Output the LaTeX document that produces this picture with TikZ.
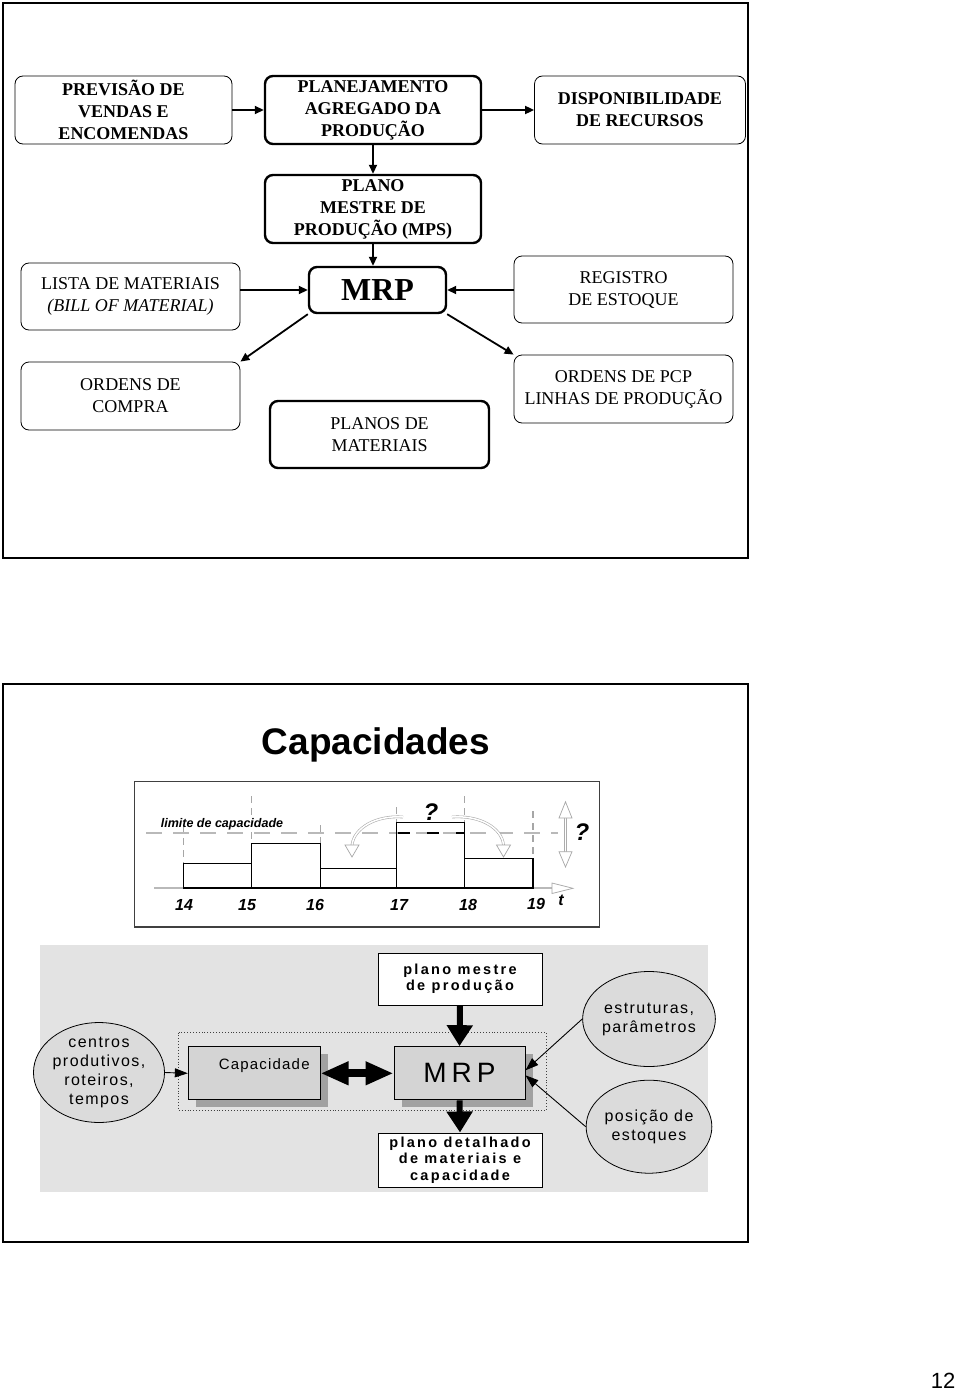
\documentclass[tikz,border=0pt]{standalone}
\usepackage{fontspec}
\setmainfont{Liberation Serif}
\setsansfont{Liberation Sans}
\newfontfamily\circfont[LetterSpace=9]{Liberation Sans}
\newfontfamily\boldspfont[LetterSpace=16]{Liberation Sans}
\newfontfamily\capspfont[LetterSpace=8]{Liberation Sans}
\newfontfamily\mrpspfont[LetterSpace=18]{Liberation Sans}
\usetikzlibrary{arrows.meta,shapes.geometric,calc}
\newcommand\TopBold{\fontsize{18}{22}\selectfont\bfseries}
\newcommand\TopReg{\fontsize{18}{22}\selectfont}
\tikzset{
  tbox/.style={draw, rounded corners=8pt, line width=0.8pt, align=center, inner sep=0pt, fill=white},
  tboxthick/.style={tbox, line width=2.4pt},
  tarr/.style={line width=1.8pt, -{Triangle[length=9pt,width=8pt]}},
  frame/.style={line width=2.5pt, draw=black},
  bar/.style={line width=1.3pt, draw=black},
  vdash/.style={draw=gray!70, line width=1.2pt, dash pattern=on 7pt off 5pt},
  capline/.style={draw=gray!55, line width=2.2pt, dash pattern=on 16pt off 11pt},
  hollow/.style={draw=gray!65, double=white, double distance=1.5pt, line width=0.6pt},
  hhead/.style={draw=gray!70, fill=white, line width=0.7pt},
  gbox/.style={draw=black, line width=1pt, fill=gray!34, inner sep=0pt},
  wbox/.style={draw=black, line width=1pt, fill=white, inner sep=0pt, align=center, font=\boldspfont\bfseries\fontsize{14.5}{16.3}\selectfont},
  circ/.style={ellipse, draw=black, line width=0.8pt, fill=gray!28, inner sep=0pt, align=center, font=\circfont\fontsize{16}{19}\selectfont},
  thinarr/.style={line width=0.9pt, -{Triangle[length=13pt,width=9pt]}},
  fatarr/.style={line width=6pt, -{Triangle[length=21pt,width=25pt]}},
  dblarr/.style={line width=8pt, {Triangle[length=28pt,width=22pt]}-{Triangle[length=28pt,width=22pt]}},
  chartnum/.style={font=\sffamily\bfseries\itshape\fontsize{16}{18}\selectfont},
}
\begin{document}
\begin{tikzpicture}[x=1pt,y=-1pt]
\useasboundingbox (0,0) rectangle (960,1394);
\fill[white] (0,0) rectangle (960,1394);

% ---------------- Frame 1 ----------------
\draw[frame] (3,3) rectangle (748,558);
\node[tbox, minimum width=217pt, minimum height=68pt, font=\TopBold] (prev) at (123.5,110) {PREVISÃO DE\\VENDAS E\\ENCOMENDAS};
\node[tboxthick, minimum width=216pt, minimum height=68pt, font=\TopBold] (plan) at (373,110) {PLANEJAMENTO\\AGREGADO DA\\PRODUÇÃO};
\node[tbox, minimum width=211pt, minimum height=68pt, font=\TopBold] (disp) at (640,110) {DISPONIBILIDADE\\DE RECURSOS};
\node[tboxthick, minimum width=216pt, minimum height=68pt, font=\TopBold] (mps) at (373,209) {PLANO\\MESTRE DE\\PRODUÇÃO (MPS)};
\node[tbox, minimum width=219pt, minimum height=67pt, font=\TopReg] (lista) at (130.5,296.5) {LISTA DE MATERIAIS\\\textit{(BILL OF MATERIAL)}};
\node[tboxthick, minimum width=137pt, minimum height=46pt, font=\fontsize{32}{34}\selectfont\bfseries] (mrp) at (377.5,290) {MRP};
\node[tbox, minimum width=219pt, minimum height=67pt, font=\TopReg] (reg) at (623.5,289.5) {REGISTRO\\DE ESTOQUE};
\node[tbox, minimum width=219pt, minimum height=68pt, font=\TopReg] (compra) at (130.5,396) {ORDENS DE\\COMPRA};
\node[tboxthick, minimum width=219pt, minimum height=67pt, font=\TopReg] (planos) at (379.5,434.5) {PLANOS DE\\MATERIAIS};
\node[tbox, minimum width=219pt, minimum height=68pt, font=\TopReg] (pcp) at (623.5,389) {ORDENS DE PCP\\LINHAS DE PRODUÇÃO};

\draw[tarr] (prev.east) -- (plan.west);
\draw[tarr] (plan.east) -- (disp.west);
\draw[tarr] (plan.south) -- (mps.north);
\draw[tarr] (mps.south) -- (mps.south |- mrp.north);
\draw[tarr] (lista.east |- mrp.west) -- (mrp.west);
\draw[tarr] (reg.west |- mrp.east) -- (mrp.east);
\draw[tarr] (mrp.south west) -- (compra.north east);
\draw[tarr] (mrp.south east) -- (pcp.north west);

% ---------------- Frame 2 ----------------
\draw[frame] (3,684) rectangle (748,1242);
\node[font=\sffamily\bfseries\fontsize{37}{40}\selectfont] (captitle) at (376,745) {Capacidades};
\draw[line width=1.2pt, draw=black!75] (134.5,781.5) rectangle (599.5,927);

% baseline
\draw[gray!55, line width=2.2pt] (154,888) -- (553,888);
\draw[hhead] (552,883) -- (573,888.3) -- (552,893.5) -- cycle;

% vertical dashed lines
\draw[vdash] (183.5,826) -- (183.5,888);
\draw[vdash] (251.7,796) -- (251.7,843);
\draw[vdash] (320.7,825) -- (320.7,843);
\draw[vdash] (396.7,807) -- (396.7,822);
\draw[vdash] (464.3,796) -- (464.3,822);
\draw[vdash] (533,811) -- (533,858);

% capacity limit
\draw[capline] (146,832.7) -- (558,832.7);

% bars
\draw[bar] (183.5,888) rectangle (251.7,863.3);
\draw[bar] (251.7,888) rectangle (320.7,843.3);
\draw[bar] (320.7,888) rectangle (396.7,868.3);
\draw[bar] (396.7,888) rectangle (464.3,822.7);
\draw[bar] (464.3,888) rectangle (533,858.3);
\draw[black, line width=1.8pt, dash pattern=on 12pt off 17pt] (398,832.7) -- (464,832.7);

% curved hollow arrows
\draw[hollow] (403,817) .. controls (376,815) and (354,828) .. (352,845);
\draw[hhead] (345,845) -- (359,845) -- (352,857) -- cycle;
\draw[hollow] (452,817) .. controls (480,815) and (502,828) .. (503.5,845);
\draw[hhead] (496.5,845) -- (510.5,845) -- (503.5,857) -- cycle;

% vertical double arrow
\draw[hollow] (565.5,818) -- (565.5,851.7);
\draw[hhead] (559,818) -- (572,818) -- (565.5,801.7) -- cycle;
\draw[hhead] (559,851.7) -- (572,851.7) -- (565.5,867) -- cycle;

\node[font=\sffamily\bfseries\itshape\fontsize{12.5}{14}\selectfont] (lim) at (222,824.3) {limite de capacidade};
\node[font=\sffamily\bfseries\itshape\fontsize{24}{26}\selectfont] (q1) at (431,812) {?};
\node[font=\sffamily\bfseries\itshape\fontsize{24}{26}\selectfont] (q2) at (582,832) {?};

\node[chartnum] (n14) at (184,905) {14};
\node[chartnum] (n15) at (247,905) {15};
\node[chartnum] (n16) at (315,905) {16};
\node[chartnum] (n17) at (399,905) {17};
\node[chartnum] (n18) at (468,905) {18};
\node[chartnum] (n19) at (536,904) {19};
\node[chartnum] (nt) at (561,900) {t};

% ---------------- Section 3 ----------------
\fill[gray!22] (40,945) rectangle (708,1192);
\draw[dotted, line width=0.9pt, black!75] (178.5,1032.5) rectangle (546,1110.5);

\fill[gray!74] (196.3,1053.7) rectangle (328.3,1107);
\node[gbox, minimum width=131.7pt, minimum height=53.3pt] (cap) at (254.2,1073.3) {};
\node[font=\capspfont\fontsize{15}{17}\selectfont] (captxt) at ($(cap.center)+(10,-7.6)$) {Capacidade};

\fill[gray!74] (402,1053.7) rectangle (533,1107);
\node[gbox, minimum width=131pt, minimum height=53.3pt, font=\mrpspfont\fontsize{28}{30}\selectfont] (mrp2) at (459.5,1073.3) {MRP};

\node[wbox, minimum width=164pt, minimum height=52pt] (pm) at (460,979) {plano mestre\\de produção};
\node[wbox, minimum width=164pt, minimum height=54pt] (pd) at (460,1160) {plano detalhado\\de materiais e\\capacidade};

\node[circ, minimum width=114pt, minimum height=92pt] (cen) at (99,1072.5) {centros\\produtivos,\\roteiros,\\tempos};
\node[circ, minimum width=114pt, minimum height=95pt] (est) at (649,1019) {estruturas,\\parâmetros};
\node[circ, minimum width=114pt, minimum height=93pt] (pos) at (649,1126.7) {posição de\\estoques};

\draw[thinarr] (cen.east) -- (cap.west);
\draw[thinarr] (est.west) -- ($(mrp2.east)+(0,-3)$);
\draw[thinarr] (pos.west) -- ($(mrp2.east)+(0,2)$);
\draw[fatarr] (pm.south) -- (mrp2.north);
\draw[fatarr] (mrp2.south) -- (pd.north);
\draw[dblarr] (cap.east) -- (mrp2.west);

\node[font=\sffamily\fontsize{22}{24}\selectfont] (pg) at (943,1381) {12};
\end{tikzpicture}
\end{document}
